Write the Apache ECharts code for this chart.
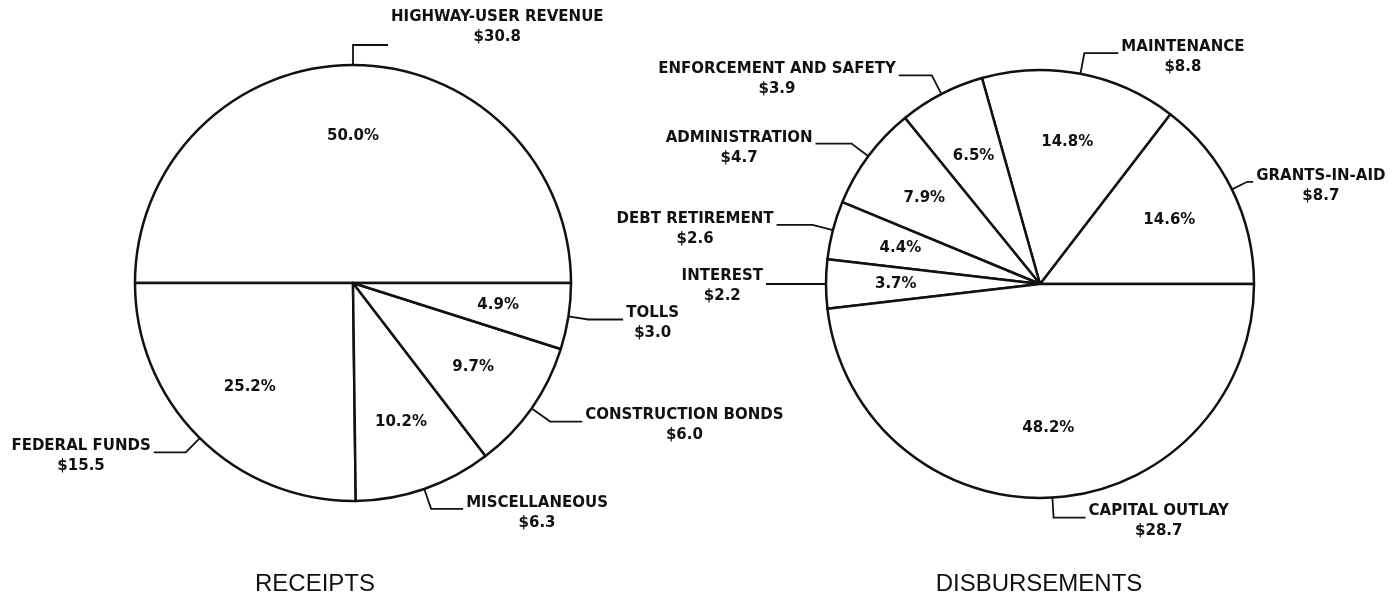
<!DOCTYPE html>
<html>
<head>
<meta charset="utf-8">
<title>Receipts and Disbursements</title>
<script src="https://cdn.jsdelivr.net/npm/echarts@6/dist/echarts.min.js"></script>
<style>
  html, body { margin: 0; padding: 0; background: #fff; }
  #chart { width: 1396px; height: 604px; }
</style>
</head>
<body>
<div id="chart"></div>
<script>
// receipts (billions of dollars and share of total)
var receiptNames = ['HIGHWAY-USER REVENUE', 'FEDERAL FUNDS', 'MISCELLANEOUS', 'CONSTRUCTION BONDS', 'TOLLS']
var receiptAmounts = [30.8, 15.5, 6.3, 6.0, 3.0]
var receiptPercents = [50.0, 25.2, 10.2, 9.7, 4.9]

// disbursements
var disbNames = ['GRANTS-IN-AID', 'MAINTENANCE', 'ENFORCEMENT AND SAFETY', 'ADMINISTRATION', 'DEBT RETIREMENT', 'INTEREST', 'CAPITAL OUTLAY']
var disbAmounts = [8.7, 8.8, 3.9, 4.7, 2.6, 2.2, 28.7]
var disbPercents = [14.6, 14.8, 6.5, 7.9, 4.4, 3.7, 48.2]

// leader lines: [radial length, horizontal length, label top padding, label bottom padding]
var receiptLeaders = [[20, 35, 8, 44], [20, 32, 8, 0], [21, 32, 8, 0], [23, 32, 8, 0], [20, 35, 8, 0]]
var disbLeaders = [[17, 6, 8, 0], [21, 34, 8, 0], [21, 33, 8, 0], [21, 36, 8, 0], [21, 36, 8, 0], [20, 40, 4, 0], [20, 32, 8, 0]]

var labelFont = 'DejaVu Sans'
var ink = '#111'

function buildPie (names, amounts, percents, leaders, center, radius) {
  var slices = []
  var plain = []
  for (var i = 0; i < names.length; i++) {
    slices.push({
      name: names[i],
      value: percents[i],
      amount: amounts[i],
      labelLine: { length: leaders[i][0], length2: leaders[i][1] },
      label: { padding: [leaders[i][2], 0, leaders[i][3], 0] }
    })
    plain.push({ name: names[i], value: percents[i] })
  }
  return [
    {
      type: 'pie',
      center: center,
      radius: radius,
      startAngle: 0,
      clockwise: false,
      avoidLabelOverlap: false,
      labelLayout: { hideOverlap: false },
      silent: true,
      animation: false,
      emphasis: { disabled: true },
      itemStyle: { color: '#fff', borderColor: ink, borderWidth: 2.5 },
      label: {
        show: true,
        position: 'outside',
        distanceToLabelLine: 3,
        formatter: function (p) {
          return '{n|' + p.name + '}\n{v|$' + p.data.amount.toFixed(1) + '}'
        },
        rich: {
          n: { align: 'center', fontFamily: labelFont, fontWeight: 'bold', fontSize: 15, lineHeight: 20, color: ink },
          v: { align: 'center', fontFamily: labelFont, fontWeight: 'bold', fontSize: 15, lineHeight: 20, color: ink }
        }
      },
      labelLine: { show: true, smooth: false, lineStyle: { color: ink, width: 1.8 } },
      data: slices
    },
    {
      // percentage labels inside the slices
      type: 'pie',
      center: center,
      radius: [radius * 0.32, radius],
      startAngle: 0,
      clockwise: false,
      avoidLabelOverlap: false,
      labelLayout: { hideOverlap: false },
      silent: true,
      animation: false,
      emphasis: { disabled: true },
      itemStyle: { color: 'rgba(0,0,0,0)', borderWidth: 0 },
      label: {
        show: true,
        position: 'inside',
        fontFamily: labelFont,
        fontWeight: 'bold',
        fontSize: 15,
        color: ink,
        formatter: function (p) {
          return p.value.toFixed(1) + '%'
        }
      },
      labelLine: { show: false },
      data: plain
    }
  ]
}

var chart = echarts.init(document.getElementById('chart'))
var titleStyle = { fontFamily: "'Liberation Sans', sans-serif", fontSize: 24, fontWeight: 'normal', color: ink }

chart.setOption({
  backgroundColor: '#fff',
  title: [
    { text: 'RECEIPTS', left: 310, top: 567, textAlign: 'center', textStyle: titleStyle },
    { text: 'DISBURSEMENTS', left: 1034, top: 567, textAlign: 'center', textStyle: titleStyle }
  ],
  series: buildPie(receiptNames, receiptAmounts, receiptPercents, receiptLeaders, [353, 283], 218)
    .concat(buildPie(disbNames, disbAmounts, disbPercents, disbLeaders, [1040, 284], 214))
})

window.addEventListener('resize', function () {
  chart.resize()
})
</script>
</body>
</html>
